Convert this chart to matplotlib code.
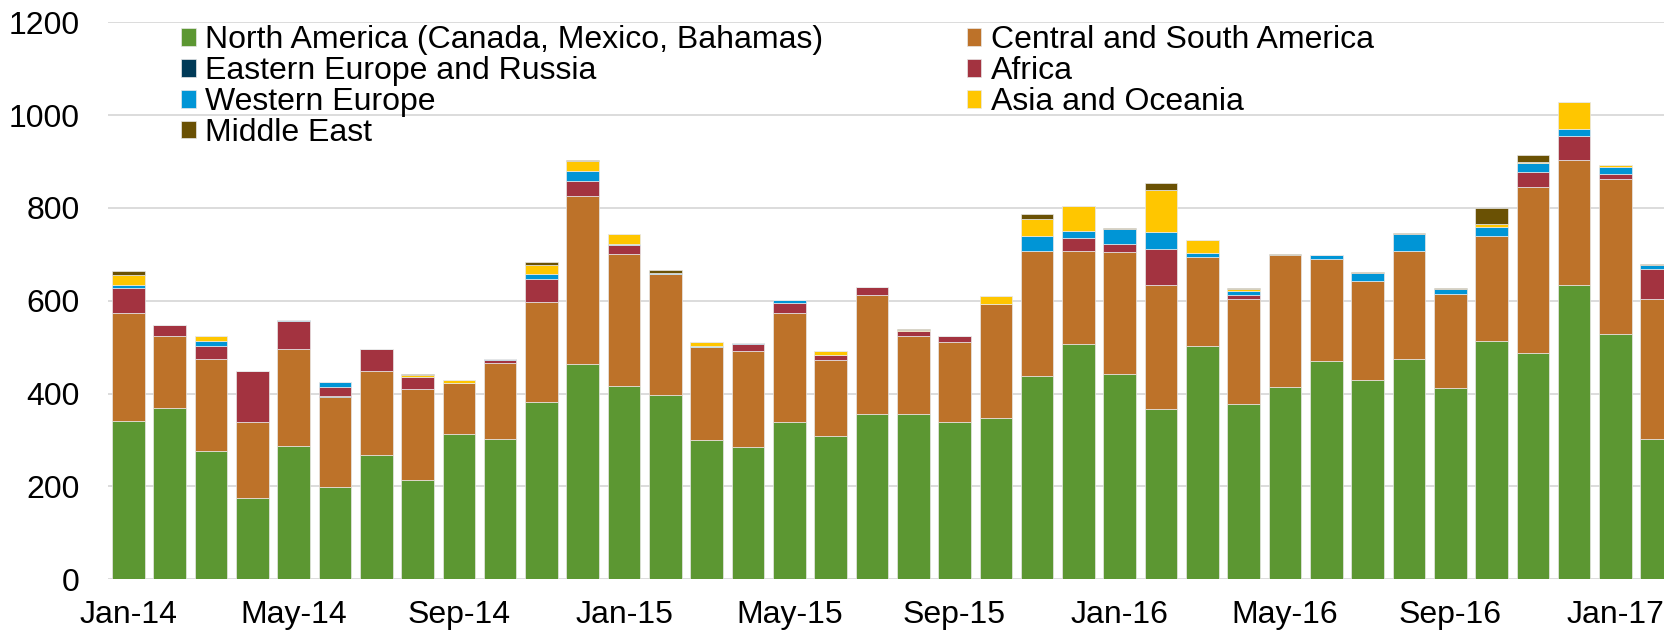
import numpy as np
import matplotlib
matplotlib.use("Agg")
import matplotlib.pyplot as plt

plt.rcParams['font.family'] = ['Liberation Sans', 'DejaVu Sans']

# months Jan-14 .. Feb-17
months = ['Jan-14', 'Feb-14', 'Mar-14', 'Apr-14', 'May-14', 'Jun-14', 'Jul-14', 'Aug-14',
          'Sep-14', 'Oct-14', 'Nov-14', 'Dec-14', 'Jan-15', 'Feb-15', 'Mar-15', 'Apr-15',
          'May-15', 'Jun-15', 'Jul-15', 'Aug-15', 'Sep-15', 'Oct-15', 'Nov-15', 'Dec-15',
          'Jan-16', 'Feb-16', 'Mar-16', 'Apr-16', 'May-16', 'Jun-16', 'Jul-16', 'Aug-16',
          'Sep-16', 'Oct-16', 'Nov-16', 'Dec-16', 'Jan-17', 'Feb-17']

north_america = [342, 370, 277, 176, 288, 198, 268, 213, 312, 302, 382, 464,
                 416, 396, 299, 284, 338, 309, 357, 357, 338, 347, 437, 506,
                 443, 366, 502, 378, 415, 470, 430, 475, 413, 513, 488, 633,
                 528, 302]
central_south = [232, 154, 198, 162, 208, 195, 180, 196, 111, 163, 216, 362,
                 284, 262, 202, 208, 236, 164, 256, 167, 174, 247, 270, 201,
                 261, 268, 192, 225, 283, 219, 212, 232, 202, 227, 356, 271,
                 334, 301]
eastern_europe = [0, 0, 0, 0, 0, 1, 0, 0, 0, 0, 0, 0,
                  0, 0, 0, 0, 0, 0, 0, 0, 0, 0, 0, 0,
                  0, 0, 0, 0, 0, 0, 0, 0, 0, 0, 0, 0,
                  0, 0]
africa = [54, 23, 28, 111, 60, 21, 48, 27, 0, 7, 48, 32,
          20, 0, 0, 14, 22, 10, 16, 10, 11, 0, 0, 29,
          19, 77, 0, 10, 0, 0, 0, 0, 0, 0, 34, 50,
          12, 65]
western_europe = [6, 0, 10, 0, 3, 10, 0, 0, 0, 2, 11, 21,
                  3, 2, 2, 3, 5, 0, 0, 1, 0, 0, 32, 15,
                  32, 36, 9, 8, 0, 9, 17, 36, 11, 19, 19, 17,
                  13, 9]
asia_oceania = [21, 0, 11, 0, 0, 0, 0, 4, 6, 0, 21, 23,
                20, 0, 8, 0, 0, 8, 0, 3, 0, 16, 37, 52,
                0, 91, 27, 5, 0, 0, 0, 0, 0, 7, 2, 57,
                6, 0]
middle_east = [8, 1, 1, 0, 0, 1, 1, 2, 1, 0, 6, 1,
               1, 6, 0, 0, 1, 0, 1, 1, 2, 0, 11, 1,
               2, 16, 1, 2, 2, 1, 2, 2, 2, 33, 15, 1,
               0, 2]

series = [
    ('North America (Canada, Mexico, Bahamas)', north_america, '#5C9732'),
    ('Central and South America', central_south, '#BD7229'),
    ('Eastern Europe and Russia', eastern_europe, '#003A57'),
    ('Africa', africa, '#A33340'),
    ('Western Europe', western_europe, '#0095D6'),
    ('Asia and Oceania', asia_oceania, '#FFC600'),
    ('Middle East', middle_east, '#6A5104'),
]

fig = plt.figure(figsize=(16.65, 6.34), dpi=100)
ax = fig.add_axes([0.0647, 0.0863, 0.9353, 0.8787])

x = np.arange(len(months))
bottom = np.zeros(len(months))
handles = []
for name, vals, col in series:
    vals = np.array(vals, dtype=float)
    b = ax.bar(x, vals, width=0.79, bottom=bottom, color=col, label=name,
               edgecolor='#e8e8e8', linewidth=0.5, zorder=3)
    handles.append(b)
    bottom += vals

ax.set_ylim(0, 1200)
ax.set_yticks(np.arange(0, 1201, 200))
ax.set_xlim(-0.5, 37.2)
ax.set_xticks(x[::4])
ax.set_xticklabels(months[::4])
ax.tick_params(axis='both', length=0, labelsize=23)
ax.tick_params(axis='x', pad=15)
ax.tick_params(axis='y', pad=20)
ax.grid(axis='y', color='#D9D9D9', linewidth=1.3, zorder=0)
for s in ax.spines.values():
    s.set_visible(False)

# legend fills column by column, so put row-wise order into columns
order = [0, 2, 4, 6, 1, 3, 5]
leg = ax.legend(handles=[handles[i] for i in order], ncol=2, loc='upper left',
                bbox_to_anchor=(0.105, 0.97), bbox_transform=fig.transFigure,
                frameon=False, fontsize=23, handlelength=0.45, handleheight=0.45,
                handletextpad=0.3, labelspacing=0.03, columnspacing=4.5,
                borderpad=0.2, borderaxespad=0)

fig.savefig('out.png', dpi=100)
